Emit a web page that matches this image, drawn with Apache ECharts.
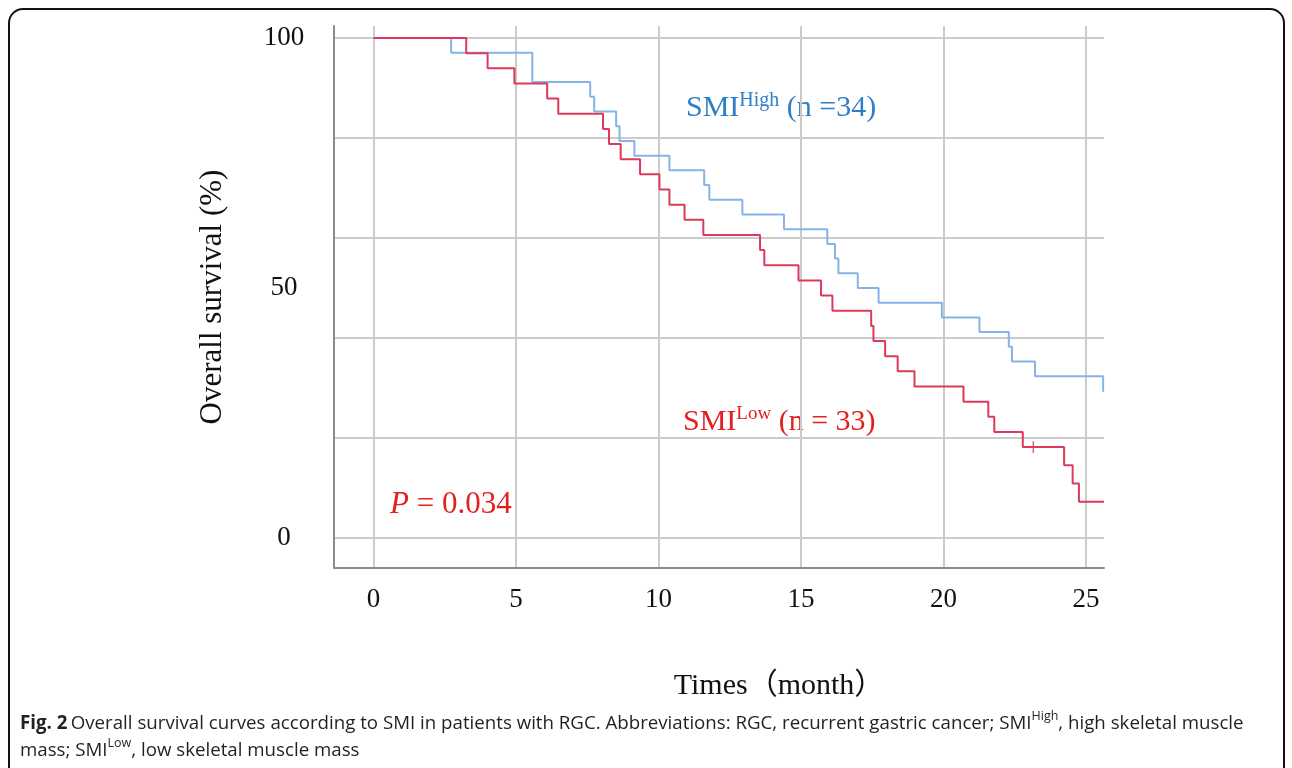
<!doctype html>
<html>
    <head>
        <meta charset="utf-8">
        <title>Overall survival - SMI</title>
        <style>
            html, body { margin: 0; padding: 0; background: #fff; }
            #main { width: 1292px; height: 768px; }
        </style>
    </head>
    <body>
        <div id="main"></div>
        <script src="https://cdn.jsdelivr.net/npm/echarts@6/dist/echarts.min.js"></script>
        <script>
            // Kaplan-Meier steps (months, survival %)
            var highTimes = [0, 2.72, 5.57, 7.6, 7.74, 8.51, 8.63, 9.15, 10.38, 11.6, 11.78, 12.94, 14.4,
                15.92, 16.19, 16.31, 16.99, 17.72, 19.94, 21.26, 22.29, 22.4, 23.21, 25.6, 25.63];
            var highSurv = [100, 97.06, 91.18, 88.24, 85.29, 82.35, 79.41, 76.47, 73.53, 70.59, 67.65, 64.71, 61.76,
                58.82, 55.88, 52.94, 50.0, 47.06, 44.12, 41.18, 38.24, 35.29, 32.35, 29.41, 29.41];

            var lowTimes = [0, 3.25, 4.0, 4.94, 6.09, 6.48, 8.05, 8.26, 8.67, 9.35, 10.03, 10.38, 10.91, 11.57,
                13.56, 13.71, 14.91, 15.7, 16.1, 17.46, 17.54, 17.95, 18.39, 18.98, 20.7, 21.57, 21.78, 22.78,
                24.23, 24.53, 24.75, 25.63];
            var lowSurv = [100, 96.97, 93.94, 90.91, 87.88, 84.85, 81.82, 78.79, 75.76, 72.73, 69.70, 66.67, 63.64, 60.61,
                57.58, 54.55, 51.52, 48.48, 45.45, 42.42, 39.39, 36.36, 33.33, 30.30, 27.27, 24.24, 21.21, 18.18,
                14.55, 10.91, 7.27, 7.27];

            var lowCensorTimes = [23.15];
            var lowCensorSurv = [18.18];

            var xTicks = [0, 5, 10, 15, 20, 25];
            var yGrid = [0, 20, 40, 60, 80, 100];
            var yTicks = [0, 50, 100];

            var serif = "'Liberation Serif', 'Times New Roman', 'Noto Sans CJK SC', serif";
            var sans = "'Open Sans', sans-serif";
            var blueLine = '#86b3ea';
            var redLine = '#dc3a5c';
            var blueText = '#2f7fc6';
            var redText = '#e3201f';
            var ink = '#231f20';

            function zip(xs, ys) {
                return xs.map(function (x, i) { return [x, ys[i]]; });
            }

            var chart = echarts.init(document.getElementById('main'));

            chart.setOption({
                backgroundColor: '#fff',
                animation: false,
                grid: {
                    left: 334,
                    top: 26,
                    width: 770,
                    height: 542,
                    containLabel: false,
                    outerBoundsMode: 'none'
                },
                xAxis: {
                    type: 'value',
                    min: -1.39,
                    max: 25.63,
                    name: 'Times（month）',
                    nameLocation: 'middle',
                    nameGap: 103,
                    nameTextStyle: {
                        fontFamily: serif,
                        fontSize: 30,
                        color: '#111',
                        padding: [0, 0, 0, 120]
                    },
                    axisLine: { onZero: false, lineStyle: { color: '#8c8c8c', width: 2 } },
                    axisTick: { show: false, customValues: xTicks },
                    axisLabel: {
                        customValues: xTicks,
                        fontFamily: serif,
                        fontSize: 27,
                        color: '#111',
                        margin: 18
                    },
                    splitLine: { show: true, lineStyle: { color: '#cbcbcb', width: 2 } }
                },
                yAxis: {
                    type: 'value',
                    min: -6,
                    max: 102.4,
                    name: 'Overall survival (%)',
                    nameLocation: 'middle',
                    nameGap: 106,
                    nameTextStyle: {
                        fontFamily: serif,
                        fontSize: 31,
                        color: '#111'
                    },
                    axisLine: { onZero: false, lineStyle: { color: '#8c8c8c', width: 2 } },
                    axisTick: { show: false, customValues: yGrid },
                    axisLabel: {
                        customValues: yTicks,
                        fontFamily: serif,
                        fontSize: 27,
                        color: '#111',
                        align: 'center',
                        margin: 50
                    },
                    splitLine: { show: true, lineStyle: { color: '#cbcbcb', width: 2 } }
                },
                series: [
                    {
                        name: 'SMI High',
                        type: 'line',
                        step: 'end',
                        symbol: 'none',
                        data: zip(highTimes, highSurv),
                        lineStyle: { color: blueLine, width: 2 },
                        emphasis: { disabled: true },
                        z: 3
                    },
                    {
                        name: 'SMI Low',
                        type: 'line',
                        step: 'end',
                        symbol: 'none',
                        data: zip(lowTimes, lowSurv),
                        lineStyle: { color: redLine, width: 2 },
                        emphasis: { disabled: true },
                        z: 4
                    },
                    {
                        name: 'censored',
                        type: 'scatter',
                        symbol: 'rect',
                        symbolSize: [1.5, 12],
                        data: zip(lowCensorTimes, lowCensorSurv),
                        itemStyle: { color: redLine },
                        emphasis: { disabled: true },
                        z: 5
                    }
                ],
                graphic: [
                    {
                        type: 'rect',
                        shape: { x: 9, y: 9, width: 1275, height: 800, r: 14 },
                        style: { fill: 'none', stroke: '#111', lineWidth: 2 },
                        silent: true
                    },
                    {
                        type: 'text',
                        left: 686,
                        top: 91,
                        style: {
                            text: '{a|SMI}{s|High}{a| (n =34)}',
                            fill: blueText,
                            rich: {
                                a: { fontFamily: serif, fontSize: 30, fill: blueText, lineHeight: 34 },
                                s: { fontFamily: serif, fontSize: 20, fill: blueText, verticalAlign: 'top', lineHeight: 34 }
                            }
                        }
                    },
                    {
                        type: 'text',
                        left: 683,
                        top: 405,
                        style: {
                            text: '{a|SMI}{s|Low}{a| (n = 33)}',
                            fill: redText,
                            rich: {
                                a: { fontFamily: serif, fontSize: 30, fill: redText, lineHeight: 34 },
                                s: { fontFamily: serif, fontSize: 19, fill: redText, verticalAlign: 'top', lineHeight: 34 }
                            }
                        }
                    },
                    {
                        type: 'text',
                        left: 390,
                        top: 489,
                        style: {
                            text: '{i|P}{a| = 0.034}',
                            fill: redText,
                            rich: {
                                i: { fontFamily: serif, fontSize: 31, fontStyle: 'italic', fill: redText },
                                a: { fontFamily: serif, fontSize: 31, fill: redText }
                            }
                        }
                    },
                    {
                        type: 'text',
                        left: 20,
                        top: 710,
                        style: {
                            text: '{b|Fig. 2} {a|Overall survival curves according to SMI in patients with RGC. Abbreviations: RGC, recurrent gastric cancer; SMI}{s|High}{a|, high skeletal muscle}\n{a|mass; SMI}{s|Low}{a|, low skeletal muscle mass}',
                            fill: ink,
                            rich: {
                                b: { fontFamily: sans, fontSize: 18.7, fontWeight: 'bold', fill: ink, lineHeight: 27 },
                                a: { fontFamily: sans, fontSize: 18.7, fill: ink, lineHeight: 27 },
                                s: { fontFamily: sans, fontSize: 12.5, fill: ink, verticalAlign: 'top', lineHeight: 27 }
                            }
                        }
                    }
                ]
            });

            window.onresize = chart.resize;
        </script>
    </body>
</html>
